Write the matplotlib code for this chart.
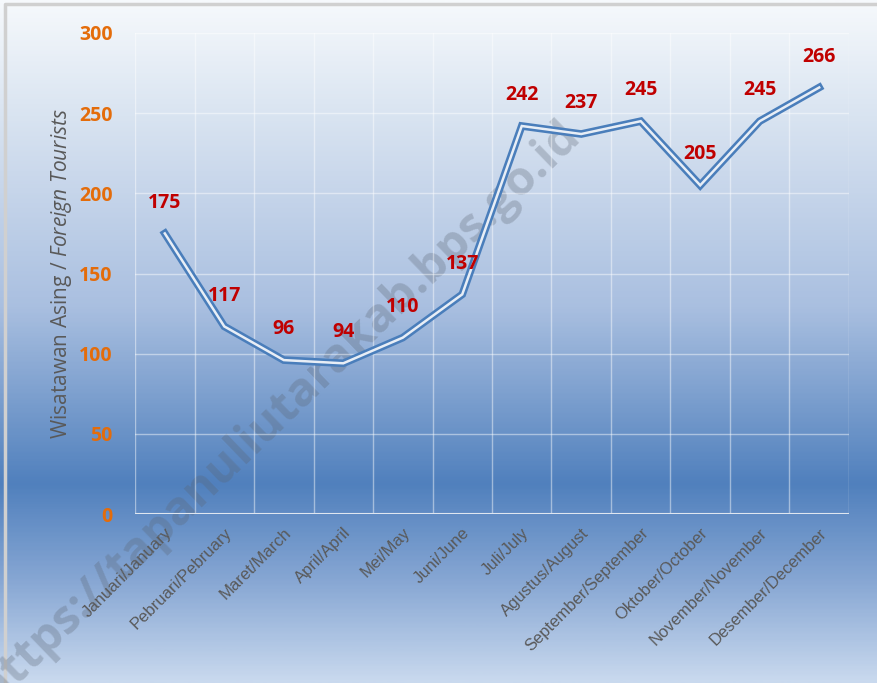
import numpy as np
import matplotlib.pyplot as plt
from matplotlib.colors import LinearSegmentedColormap

plt.rcParams['font.family'] = ['Open Sans', 'DejaVu Sans']
plt.rcParams['mathtext.fontset'] = 'custom'
plt.rcParams['mathtext.it'] = 'Open Sans:italic'
plt.rcParams['mathtext.rm'] = 'Open Sans'

months = ['Januari/January', 'Pebruari/Pebruary', 'Maret/March', 'April/April',
          'Mei/May', 'Juni/June', 'Juli/July', 'Agustus/August',
          'September/September', 'Oktober/October', 'November/November',
          'Desember/December']
tourists = [175, 117, 96, 94, 110, 137, 242, 237, 245, 205, 245, 266]
y_ticks = [0, 50, 100, 150, 200, 250, 300]

fig = plt.figure(figsize=(8.77, 6.83), dpi=100)

# background gradient over whole figure
bg = fig.add_axes([0, 0, 1, 1], zorder=0)
stops = [(0.0, '#f6f9fc'), (0.15, '#dce6f2'), (0.45, '#a9bfe0'),
         (0.71, '#5080bd'), (0.85, '#86a6d3'), (1.0, '#c9d9ee')]
cmap = LinearSegmentedColormap.from_list('bg', stops)
grad = np.linspace(0, 1, 400).reshape(-1, 1)
bg.imshow(grad, aspect='auto', cmap=cmap, extent=[0, 1, 0, 1], origin='upper')
bg.set_xlim(0, 1)
bg.set_ylim(0, 1)
bg.plot([0.006, 0.006, 1.0], [0.0, 0.994, 0.994], color='#d0d0d0', lw=2.5)
bg.axis('off')

# watermark
bg.text(0.318, 0.396, 'https://tapanuliutarakab.bps.go.id', fontsize=34,
        fontweight='bold', color='#5a6472', alpha=0.3, rotation=44,
        ha='center', va='center')

ax = fig.add_axes([0.154, 0.2474, 0.814, 0.7043], zorder=1)
ax.patch.set_alpha(0)
x = np.arange(len(months))
ax.set_xlim(-0.5, len(months) - 0.5)
ax.set_ylim(0, 300)

# grid
for b in np.arange(-0.5, len(months), 1):
    ax.axvline(b, color='white', alpha=0.45, lw=1, zorder=1)
for t in y_ticks[1:]:
    ax.axhline(t, color='white', alpha=0.45, lw=1, zorder=1)
ax.axhline(0, color='#dfe6f0', lw=1.5, zorder=2)

# double line
ax.plot(x, tourists, color='#4a7ebb', lw=5.5, zorder=3, solid_joinstyle='miter')
ax.plot(x, tourists, color='#e8eef6', lw=1.8, zorder=4, solid_joinstyle='miter')

for xi, v in zip(x, tourists):
    ax.annotate(str(v), (xi, v), xytext=(0, 15), textcoords='offset points',
                ha='center', va='bottom', color='#c00000', fontsize=14,
                fontweight='bold', zorder=5)

for s in ax.spines.values():
    s.set_visible(False)
ax.set_yticks(y_ticks)
ax.set_yticklabels([str(t) for t in y_ticks], color='#e46c0a', fontsize=14,
                   fontweight='bold')
ax.set_xticks(x)
ax.set_xticklabels(months, rotation=45, ha='right', rotation_mode='anchor',
                   family=['Liberation Sans'], fontsize=12, color='#595959')
ax.tick_params(length=0)
ax.tick_params(axis='y', pad=16)
ax.tick_params(axis='x', pad=8)
ax.set_ylabel(r'Wisatawan Asing / $\it{Foreign\ Tourists}$', fontsize=15,
              color='#595959', labelpad=4)

fig.savefig('out.png', dpi=100)
